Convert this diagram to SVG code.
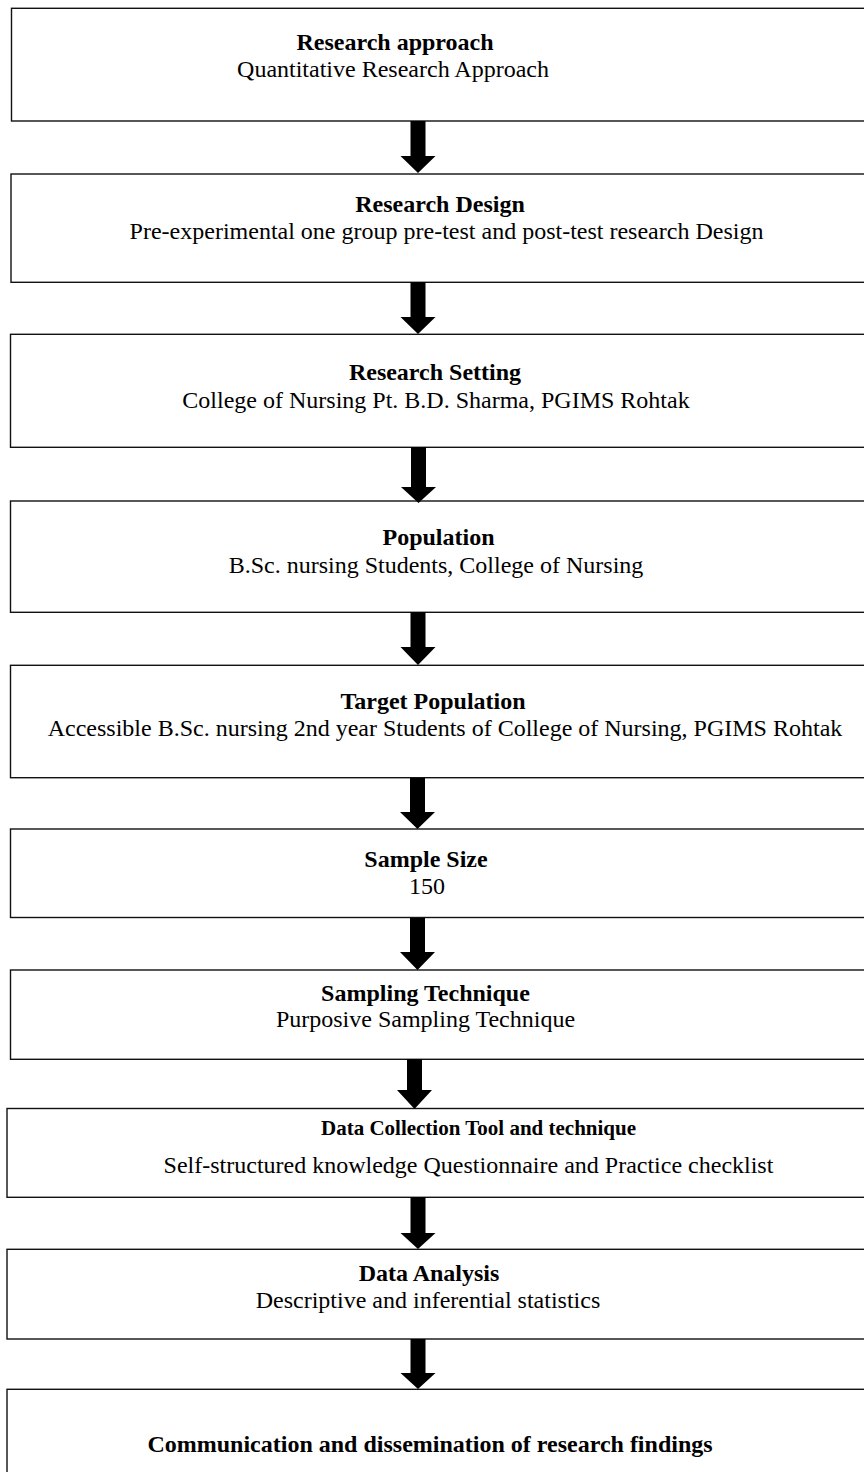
<svg xmlns="http://www.w3.org/2000/svg" width="864" height="1472" viewBox="0 0 864 1472">
<style>
.box{fill:#fff;stroke:#111;stroke-width:1.4}
.t{font-family:"Liberation Serif","Times New Roman",serif;font-size:24px;fill:#000;text-anchor:middle}
.b{font-weight:bold}
.arr{fill:#000}
</style>
<rect width="864" height="1472" fill="#fff"/>
<g id="n1"><rect class="box" x="11.5" y="8.3" width="900" height="112.7"/>
<text class="t b" x="395" y="50">Research approach</text>
<text class="t" x="393" y="77">Quantitative Research Approach</text></g>
<g id="n2"><rect class="box" x="11" y="174" width="900" height="108.3"/>
<text class="t b" x="440" y="212">Research Design</text>
<text class="t" x="446.5" y="239">Pre-experimental one group pre-test and post-test research Design</text></g>
<g id="n3"><rect class="box" x="10.5" y="334.3" width="900" height="113"/>
<text class="t b" x="435" y="379.5">Research Setting</text>
<text class="t" x="436" y="408">College of Nursing Pt. B.D. Sharma, PGIMS Rohtak</text></g>
<g id="n4"><rect class="box" x="10.5" y="501" width="900" height="111.3"/>
<text class="t b" x="438.5" y="545">Population</text>
<text class="t" x="436" y="573">B.Sc. nursing Students, College of Nursing</text></g>
<g id="n5"><rect class="box" x="10.5" y="665.3" width="900" height="112.4"/>
<text class="t b" x="433" y="709">Target Population</text>
<text class="t" x="445" y="736">Accessible B.Sc. nursing 2nd year Students of College of Nursing, PGIMS Rohtak</text></g>
<g id="n6"><rect class="box" x="10.5" y="829" width="900" height="88.5"/>
<text class="t b" x="426" y="867">Sample Size</text>
<text class="t" x="427" y="893.5">150</text></g>
<g id="n7"><rect class="box" x="10.5" y="970" width="900" height="89.3"/>
<text class="t b" x="425.5" y="1001">Sampling Technique</text>
<text class="t" x="425.5" y="1027">Purposive Sampling Technique</text></g>
<g id="n8"><rect class="box" x="7" y="1108.5" width="900" height="88.8"/>
<text class="t b" x="478.5" y="1135" style="font-size:21px">Data Collection Tool and technique</text>
<text class="t" x="468.5" y="1173">Self-structured knowledge Questionnaire and Practice checklist</text></g>
<g id="n9"><rect class="box" x="7" y="1249.3" width="900" height="89.7"/>
<text class="t b" x="429" y="1281">Data Analysis</text>
<text class="t" x="428" y="1308">Descriptive and inferential statistics</text></g>
<g id="n10"><rect class="box" x="7" y="1389.3" width="900" height="120"/>
<text class="t b" x="430" y="1452">Communication and dissemination of research findings</text></g>
<g id="connectors">
<polygon class="arr" points="410.5,121 425.5,121 425.5,156 435.5,156 418,173 400.5,156 410.5,156"/>
<polygon class="arr" points="410.5,282 425.5,282 425.5,317 435.5,317 418,334 400.5,317 410.5,317"/>
<polygon class="arr" points="411,447 426,447 426,487 436,487 418.5,503 401,487 411,487"/>
<polygon class="arr" points="410.5,612 425.5,612 425.5,647 435.5,647 418,665 400.5,647 410.5,647"/>
<polygon class="arr" points="410,778 425,778 425,812 435,812 417.5,829 400,812 410,812"/>
<polygon class="arr" points="410,918 425,918 425,952 435,952 417.5,970 400,952 410,952"/>
<polygon class="arr" points="407,1059 422,1059 422,1090 432,1090 414.5,1109 397,1090 407,1090"/>
<polygon class="arr" points="410.5,1197 425.5,1197 425.5,1233 435.5,1233 418,1249 400.5,1233 410.5,1233"/>
<polygon class="arr" points="410.5,1339 425.5,1339 425.5,1373 435.5,1373 418,1389 400.5,1373 410.5,1373"/>
</g>
</svg>
